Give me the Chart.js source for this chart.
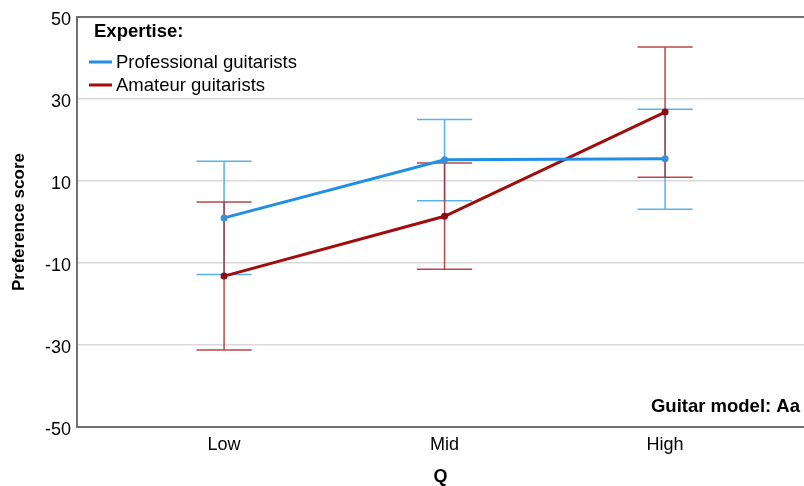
<!DOCTYPE html>
<html>
<head>
<meta charset="utf-8">
<script src="https://cdn.jsdelivr.net/npm/chart.js@4/dist/chart.umd.min.js"></script>
<style>
  html, body { margin: 0; padding: 0; background: #fff; overflow: hidden; }
  canvas { display: block; }
</style>
</head>
<body>
<canvas id="chart" width="808" height="486"></canvas>
<script>
// Q levels on the x axis
const categories = ['Low', 'Mid', 'High'];
const yTicks = [-50, -30, -10, 10, 30, 50];

// Mean preference score with error-bar limits per Q level
const proMean  = [1.0, 15.2, 15.4];
const proLow   = [-12.8, 5.2, 3.1];
const proHigh  = [14.8, 25.0, 27.5];

const amaMean  = [-13.2, 1.4, 26.8];
const amaLow   = [-31.2, -11.5, 10.9];
const amaHigh  = [4.9, 14.4, 42.7];

const seriesNames = ['Professional guitarists', 'Amateur guitarists'];
const legendTitle = 'Expertise:';
const panelLabel = 'Guitar model: Aa';

const FONT = '"Liberation Sans", Arial, sans-serif';
const BLUE = '#1f8fe5';
const RED = '#a00d0d';
const BLUE_ERR = 'rgba(70,170,235,0.9)';
const RED_ERR = 'rgba(170,40,40,0.85)';

const toPoints = arr => arr.map((v, i) => ({ x: i, y: v }));

// Vertical error bars with caps, drawn under the lines
const errorBars = {
  id: 'errorBars',
  beforeDatasetsDraw(chart) {
    const { ctx, scales: { x, y } } = chart;
    const sets = [
      { lo: proLow, hi: proHigh, color: BLUE_ERR },
      { lo: amaLow, hi: amaHigh, color: RED_ERR }
    ];
    ctx.save();
    ctx.lineWidth = 1.5;
    sets.forEach(s => {
      ctx.strokeStyle = s.color;
      s.lo.forEach((lo, i) => {
        const px = x.getPixelForValue(i);
        const capHalf = (x.getPixelForValue(1) - x.getPixelForValue(0)) * 0.125;
        const yl = y.getPixelForValue(lo);
        const yh = y.getPixelForValue(s.hi[i]);
        ctx.beginPath();
        ctx.moveTo(px, yl); ctx.lineTo(px, yh);
        ctx.moveTo(px - capHalf, yl); ctx.lineTo(px + capHalf, yl);
        ctx.moveTo(px - capHalf, yh); ctx.lineTo(px + capHalf, yh);
        ctx.stroke();
      });
    });
    ctx.restore();
  }
};

// Legend box inside the plot plus the panel label
const annotations = {
  id: 'annotations',
  afterDraw(chart) {
    const { ctx, chartArea } = chart;
    ctx.save();
    ctx.textBaseline = 'middle';
    ctx.fillStyle = '#000';
    ctx.font = 'bold 18.5px ' + FONT;
    ctx.textAlign = 'left';
    ctx.fillText(legendTitle, chartArea.left + 17, 32);

    ctx.font = '18.5px ' + FONT;
    chart.data.datasets.forEach((ds, i) => {
      const yy = 62 + i * 23;
      ctx.strokeStyle = ds.borderColor;
      ctx.lineWidth = 3;
      ctx.beginPath();
      ctx.moveTo(chartArea.left + 12, yy);
      ctx.lineTo(chartArea.left + 35, yy);
      ctx.stroke();
      ctx.fillStyle = '#000';
      ctx.fillText(ds.label, chartArea.left + 39, yy + 1);
    });

    ctx.font = 'bold 18.5px ' + FONT;
    ctx.textAlign = 'right';
    ctx.fillText(panelLabel, 800, 407);
    ctx.restore();
  }
};

new Chart(document.getElementById('chart'), {
  type: 'line',
  data: {
    datasets: [
      {
        label: seriesNames[0],
        data: toPoints(proMean),
        borderColor: BLUE,
        backgroundColor: BLUE,
        borderWidth: 3,
        pointRadius: 3.5,
        pointBackgroundColor: '#3a8fdc',
        pointBorderWidth: 0
      },
      {
        label: seriesNames[1],
        data: toPoints(amaMean),
        borderColor: RED,
        backgroundColor: RED,
        borderWidth: 3,
        pointRadius: 3.5,
        pointBackgroundColor: '#8e0a14',
        pointBorderWidth: 0
      }
    ]
  },
  options: {
    responsive: false,
    animation: false,
    layout: { padding: { top: 17, right: 0, left: 0, bottom: 0 } },
    plugins: {
      legend: { display: false },
      tooltip: { enabled: false }
    },
    scales: {
      x: {
        type: 'linear',
        min: -0.667,
        max: 2.63,
        afterBuildTicks: s => { s.ticks = categories.map((_, i) => ({ value: i })); },
        afterFit: s => { s.height = 59; },
        ticks: {
          callback: v => categories[v],
          font: { family: FONT, size: 18 },
          color: '#000',
          padding: 7,
          maxRotation: 0
        },
        grid: { display: false, drawTicks: false },
        border: { display: true, color: '#707070', width: 2 },
        title: {
          display: true,
          text: 'Q',
          font: { family: FONT, size: 18, weight: 'bold', lineHeight: 1 },
          color: '#000',
          padding: { top: 0, bottom: 0 }
        }
      },
      y: {
        min: -50,
        max: 50,
        afterBuildTicks: s => { s.ticks = yTicks.map(v => ({ value: v })); },
        afterFit: s => { s.width = 77; },
        ticks: {
          font: { family: FONT, size: 18 },
          color: '#000',
          padding: 6,
          labelOffset: 3
        },
        grid: {
          drawTicks: false,
          color: c => c.tick && c.tick.value === 50 ? '#707070' : (c.tick && c.tick.value === -50 ? 'rgba(0,0,0,0)' : '#d9d9d9'),
          lineWidth: c => c.tick && c.tick.value === 50 ? 2 : 1.5
        },
        border: { display: true, color: '#707070', width: 2 },
        title: {
          display: true,
          text: 'Preference score',
          font: { family: FONT, size: 17, weight: 'bold', lineHeight: 1.2 },
          color: '#000',
          padding: { top: 9, bottom: 0 }
        }
      }
    }
  },
  plugins: [errorBars, annotations]
});
</script>
</body>
</html>
